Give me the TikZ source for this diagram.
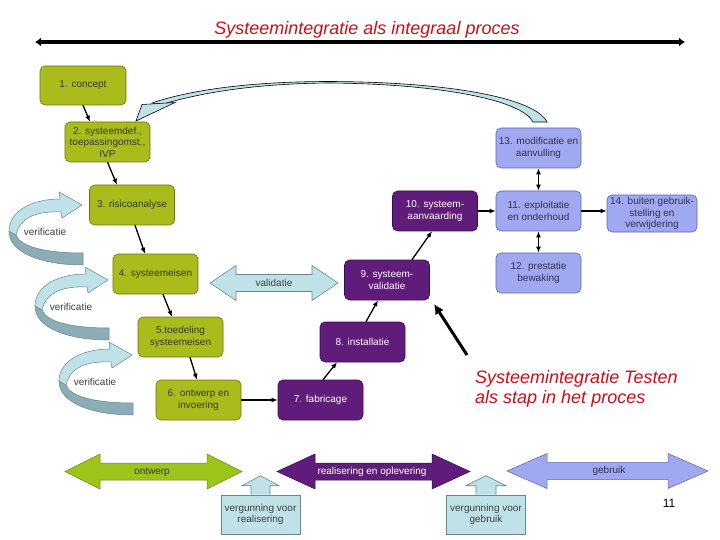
\documentclass[tikz,border=0pt]{standalone}
\usepackage{fontspec}
\setmainfont{Liberation Sans}
\usetikzlibrary{arrows.meta,calc}
\definecolor{cOlive}{RGB}{170,187,28}
\definecolor{cOliveD}{RGB}{105,118,16}
\definecolor{cOliveT}{RGB}{55,58,40}
\definecolor{cPurple}{RGB}{96,28,122}
\definecolor{cPurpleD}{RGB}{60,12,80}
\definecolor{cLav}{RGB}{160,168,242}
\definecolor{cLavD}{RGB}{90,100,180}
\definecolor{cLavT}{RGB}{50,50,75}
\definecolor{cCyan}{RGB}{190,226,232}
\definecolor{cCyanD}{RGB}{105,135,142}
\definecolor{cTeal}{RGB}{140,172,182}
\definecolor{cGreen}{RGB}{157,196,26}
\definecolor{cGreenD}{RGB}{110,140,20}
\definecolor{cRed}{RGB}{200,16,24}
\definecolor{cGrayT}{RGB}{64,64,64}
\begin{document}
\begin{tikzpicture}[x=1pt,y=-1pt,
  box/.style={rounded corners=5pt, minimum width=85pt, minimum height=40pt, align=center, inner sep=1pt, font=\fontsize{10}{11.5}\selectfont, line width=0.6pt},
  obox/.style={box, fill=cOlive, draw=cOliveD, text=cOliveT},
  pbox/.style={box, fill=cPurple, draw=cPurpleD, text=white},
  lbox/.style={box, fill=cLav, draw=cLavD, text=cLavT},
  conn/.style={-{Latex[length=6pt,width=5pt]}, line width=1.3pt, black},
  dconn/.style={{Latex[length=6pt,width=5pt]}-{Latex[length=6pt,width=5pt]}, line width=1.3pt, black},
  lbl/.style={font=\fontsize{10}{11.5}\selectfont, text=cGrayT, inner sep=0pt, align=center},
  vlight/.style={fill=cCyan, draw=cCyanD, line width=0.5pt},
  vdark/.style={fill=cTeal, draw=cCyanD, line width=0.5pt},
  phase/.style={line width=0.5pt},
  vbox/.style={draw=cCyanD, fill=cCyan, line width=0.6pt, minimum width=79pt, minimum height=39pt, inner sep=1pt, align=center, font=\fontsize{10}{11.5}\selectfont, text=cGrayT},
  verif/.pic={
    \path[vdark] (-73,26) .. controls (-73,48) and (-40,60) .. (1,60) -- (1,48) .. controls (-35,48) and (-62,42) .. (-66,30) -- cycle;
    \path[vlight] (-22,-6) -- (-23,-13) -- (0,0) -- (-20,13) -- (-21,7) .. controls (-45,6) and (-62,12) .. (-66,30) -- (-73,26) .. controls (-73,6) and (-50,-6) .. (-22,-6) -- cycle;
    \node[lbl] (-lab) at (-37,27) {verificatie};
  }
]
\useasboundingbox (0,0) rectangle (720,540);
\fill[white] (0,0) rectangle (720,540);

% title
\node[font=\fontsize{18}{20}\selectfont\itshape, text=cRed, inner sep=0pt] (title) at (367,29.5) {Systeemintegratie als integraal proces};
\coordinate (tl) at (35,42);
\coordinate (tr) at (685,42);
\draw[line width=3.5pt, {Latex[length=6pt,width=9pt]}-{Latex[length=6pt,width=9pt]}] (tl) -- (tr);

% verification arrows
\pic (v1) at (82,205) {verif};
\pic (v2) at (108,280) {verif};
\pic (v3) at (132,355) {verif};

% big curved feedback arrow
\path[fill=cCyan, draw=black, line width=0.6pt] (547,122) .. controls (535,98) and (450,82) .. (330,81.5) .. controls (250,81.5) and (190,90) .. (152,103) -- (160,105) .. controls (196,94) and (250,83.5) .. (330,83) .. controls (440,84) and (522,100) .. (533,122) -- cycle;
\path[fill=cCyan, draw=black, line width=0.6pt] (142,104.5) -- (175,102.5) -- (136,121) -- cycle;

% boxes
\node[obox, minimum width=86pt, minimum height=39pt] (b1) at (83,85.5) {1. concept};
\node[obox] (b2) at (107.5,142) {2. systeemdef.,\\toepassingomst.,\\IVP};
\node[obox] (b3) at (132,205) {3. risicoanalyse};
\node[obox] (b4) at (155.5,274) {4. systeemeisen};
\node[obox] (b5) at (180.5,337) {5.toedeling\\systeemeisen};
\node[obox] (b6) at (198.5,400) {6. ontwerp en\\invoering};
\node[pbox] (b7) at (320.5,400) {7. fabricage};
\node[pbox] (b8) at (362.5,342) {8. installatie};
\node[pbox] (b9) at (387,280) {9. systeem-\\validatie};
\node[pbox] (b10) at (435,211) {10. systeem-\\aanvaarding};
\node[lbox] (b11) at (538.5,211) {11. exploitatie\\en onderhoud};
\node[lbox] (b12) at (538.5,273) {12. prestatie\\bewaking};
\node[lbox] (b13) at (538.5,148) {13. modificatie en\\aanvulling};
\node[lbox, minimum width=90pt, minimum height=37pt] (b14) at (652,213.5) {14. buiten gebruik-\\stelling en\\verwijdering};

% connectors
\draw[conn] (b1.south) -- ([xshift=-17.5pt]b2.north);
\draw[conn] (b2.south) -- ([xshift=-15pt]b3.north);
\draw[conn] ([xshift=3pt]b3.south) -- ([xshift=-10.5pt]b4.north);
\draw[conn] ([xshift=7.5pt]b4.south) -- ([xshift=-8.5pt]b5.north);
\draw[conn] ([xshift=9.5pt]b5.south) -- ([xshift=-1.5pt]b6.north);
\draw[conn] (b6.east) -- (b7.west);
\draw[conn] ([xshift=2.5pt]b7.north) -- ([xshift=-25.5pt]b8.south);
\draw[conn] ([xshift=3.5pt]b8.north) -- ([xshift=-9pt]b9.south);
\draw[conn] ([xshift=25pt]b9.north) -- ([xshift=-3pt]b10.south);
\draw[conn] (b10.east) -- (b11.west);
\draw[conn] (b11.east) -- (b11.east -| b14.west);
\draw[dconn] (b11.south) -- (b12.north);
\draw[dconn] (b13.south) -- (b11.north);

% validatie
\path[vlight, line width=0.6pt] (210,283) -- (236,265.5) -- (236,274.5) -- (312,274.5) -- (312,265.5) -- (338,283) -- (312,300.5) -- (312,291.5) -- (236,291.5) -- (236,300.5) -- cycle;
\node[lbl] (val) at (274,283) {validatie};

% phase arrows
\path[phase, fill=cGreen, draw=cGreenD] (65,471.5) -- (100,454) -- (100,463) -- (207,463) -- (207,454) -- (242,471.5) -- (207,489) -- (207,480) -- (100,480) -- (100,489) -- cycle;
\node[lbl, text=cOliveT] (ph1) at (152,472) {ontwerp};
\path[phase, fill=cPurple, draw=cPurpleD] (277,471.5) -- (315,454) -- (315,463) -- (432,463) -- (432,454) -- (470,471.5) -- (432,489) -- (432,480) -- (315,480) -- (315,489) -- cycle;
\node[lbl, text=white] (ph2) at (372,471.5) {realisering en oplevering};
\path[phase, fill=cLav, draw=cLavD] (507,471) -- (547,453.5) -- (547,462.5) -- (668,462.5) -- (668,453.5) -- (708,471) -- (668,488.5) -- (668,479.5) -- (547,479.5) -- (547,488.5) -- cycle;
\node[lbl, text=cLavT] (ph3) at (609,470.5) {gebruik};

% permits
\node[vbox] (vr) at (260.5,514.5) {vergunning voor\\realisering};
\filldraw[fill=cCyan, draw=cCyanD, line width=0.6pt] ([xshift=-9.5pt]vr.north) -- ++(0,-9) -- ++(-9,0) -- ++(18.5,-10) -- ++(18.5,10) -- ++(-9,0) -- ++(0,9);
\node[vbox] (vg) at (486,514.5) {vergunning voor\\gebruik};
\filldraw[fill=cCyan, draw=cCyanD, line width=0.6pt] ([xshift=-10pt]vg.north) -- ++(0,-9) -- ++(-10,0) -- ++(20,-10) -- ++(20,10) -- ++(-10,0) -- ++(0,9);

% testen annotation
\node[font=\fontsize{18}{20}\selectfont\itshape, text=cRed, inner sep=0pt, align=left, anchor=west] (testen) at (475,389) {Systeemintegratie Testen\\als stap in het proces};
\coordinate (ts) at (467,355);
\coordinate (tt) at (434,304);
\draw[line width=3pt, -{Latex[length=10pt,width=10pt]}] (ts) -- (tt);

% page number
\node[font=\fontsize{12}{14}\selectfont, inner sep=0pt] (pg) at (669,503) {11};
\end{tikzpicture}
\end{document}
